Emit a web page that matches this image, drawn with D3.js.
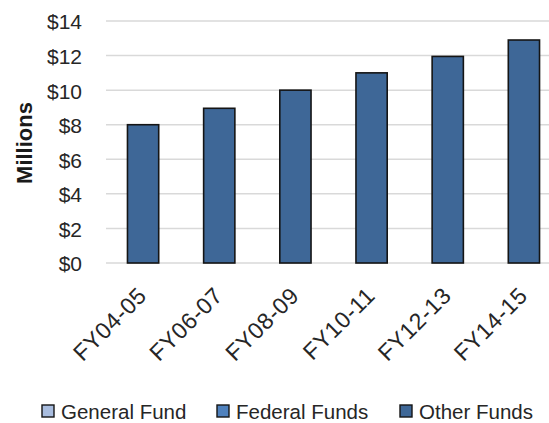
<!DOCTYPE html>
<html>
<head>
<meta charset="utf-8">
<script src="https://cdn.jsdelivr.net/npm/d3@7"></script>
<style>
  body { margin: 0; background: #fff; }
  svg { display: block; font-family: Arial, "Liberation Sans", sans-serif; }
</style>
</head>
<body>
<div id="chart"></div>
<script>
var categories = ["FY04-05", "FY06-07", "FY08-09", "FY10-11", "FY12-13", "FY14-15"];
var seriesNames = ["General Fund", "Federal Funds", "Other Funds"];
var generalFund = [0, 0, 0, 0, 0, 0];
var federalFunds = [0, 0, 0, 0, 0, 0];
var otherFunds = [8.0, 8.95, 10.0, 11.0, 11.95, 12.9];
var yTicks = [0, 2, 4, 6, 8, 10, 12, 14];
var seriesColors = ["#a9bddf", "#4f81bd", "#3e6797"];

function createBarChart(){

    var width = 549, height = 423;
    var plot = { left: 105, right: 562, top: 21, bottom: 263 };

    var svg = d3.select("#chart")
        .append("svg")
            .attr("width", width)
            .attr("height", height);

    var rows = categories.map(function(c, i){
        return { cat: c, "General Fund": generalFund[i], "Federal Funds": federalFunds[i], "Other Funds": otherFunds[i] };
    });
    var stacked = d3.stack().keys(seriesNames)(rows);

    var xScale = d3.scaleBand()
        .domain(categories)
        .range([plot.left, plot.right])
        .paddingInner(0.59)
        .paddingOuter(0.295);

    var yScale = d3.scaleLinear()
        .domain([0, 14])
        .range([plot.bottom, plot.top]);

    var color = d3.scaleOrdinal().domain(seriesNames).range(seriesColors);

    // gridlines
    svg.append("g")
        .selectAll("line")
        .data(yTicks)
        .enter()
        .append("line")
            .attr("x1", plot.left + 1)
            .attr("x2", width)
            .attr("y1", function(d){ return yScale(d); })
            .attr("y2", function(d){ return yScale(d); })
            .style("stroke", "#d9d9d9")
            .style("stroke-width", 1.5);

    var yAxis = svg.append("g")
        .attr("transform", "translate(82,0)")
        .call(d3.axisLeft(yScale).tickValues(yTicks).tickSize(0).tickPadding(0)
            .tickFormat(function(d){ return "$" + d; }));
    yAxis.select(".domain").remove();
    yAxis.selectAll("text")
        .attr("font-size", "21px")
        .attr("font-family", "Arial, 'Liberation Sans', sans-serif")
        .attr("dy", "0.38em")
        .style("fill", "#262626");

    svg.append("text")
        .attr("transform", "translate(32,143) rotate(-90)")
        .attr("text-anchor", "middle")
        .attr("font-size", "22px")
        .attr("font-weight", "bold")
        .style("fill", "#1a1a1a")
        .text("Millions");

    // bars
    svg.append("g")
        .selectAll("g")
        .data(stacked)
        .enter()
        .append("g")
            .style("fill", function(d){ return color(d.key); })
        .selectAll("rect")
        .data(function(d){ return d.filter(function(p){ return p[1] - p[0] > 0; }); })
        .enter()
        .append("rect")
            .attr("x", function(d){ return xScale(d.data.cat); })
            .attr("width", xScale.bandwidth())
            .attr("y", function(d){ return yScale(d[1]); })
            .attr("height", function(d){ return yScale(d[0]) - yScale(d[1]); })
            .style("stroke", "#151515")
            .style("stroke-width", 1.6);

    // x labels
    var xAxis = svg.append("g")
        .attr("transform", "translate(0," + plot.bottom + ")")
        .call(d3.axisBottom(xScale).tickSize(0).tickPadding(0));
    xAxis.select(".domain").remove();
    xAxis.selectAll("text")
        .attr("font-size", "23px")
        .attr("letter-spacing", "0.6px")
        .attr("font-family", "Arial, 'Liberation Sans', sans-serif")
        .attr("x", 0)
        .attr("y", 0)
        .attr("dy", 0)
        .attr("text-anchor", "end")
        .attr("transform", "translate(5,34) rotate(-45)")
        .style("fill", "#262626");

    // legend
    var legendX = [42, 217, 400];
    var legend = svg.append("g")
        .selectAll("g")
        .data(seriesNames)
        .enter()
        .append("g")
            .attr("transform", function(d, i){ return "translate(" + legendX[i] + ",405)"; });
    legend.append("rect")
        .attr("width", 12)
        .attr("height", 12)
        .style("fill", function(d){ return color(d); })
        .style("stroke", "#151515")
        .style("stroke-width", 1.4);
    legend.append("text")
        .attr("x", 19)
        .attr("y", 13.5)
        .attr("font-size", "20.5px")
        .style("fill", "#262626")
        .text(function(d){ return d; });
}

createBarChart();
</script>
</body>
</html>
